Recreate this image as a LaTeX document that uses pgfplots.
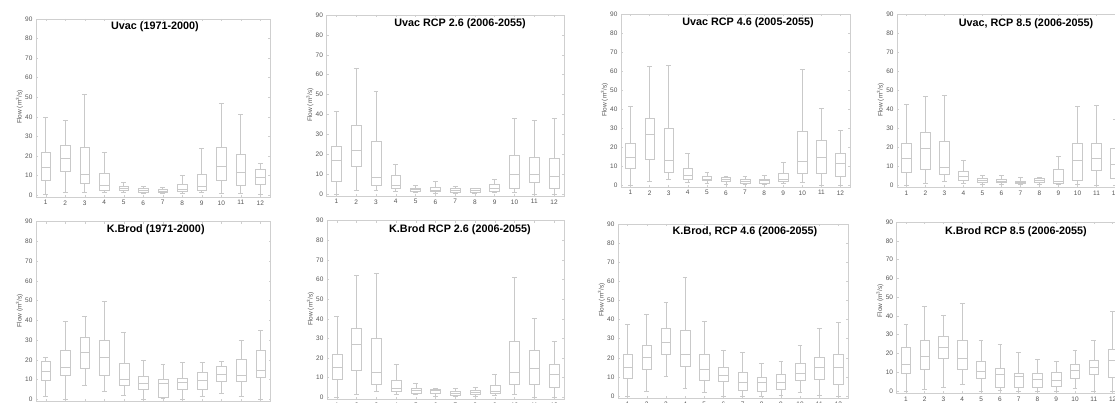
\documentclass[border=0pt]{standalone}
\usepackage{pgfplots}
\pgfplotsset{compat=1.18}
\usepackage{pgfplotstable}
\usepgfplotslibrary{statistics}
\usepackage{fontspec}
\setmainfont{Liberation Sans}
\definecolor{boxgray}{HTML}{C9C9C9}
\definecolor{axgray}{HTML}{CFCFCF}
\definecolor{lblgray}{HTML}{555555}

% Uvac (1971-2000)
\pgfplotstableread{
m lw q1 med q3 uw
1 0.2 7.7 14.2 21.7 39.5
2 1.4 12.1 18.8 25.3 38
3 1.4 6 10.8 24.6 51.5
4 1.4 2.2 5 11.1 21.8
5 1.5 2.4 3.4 4.3 6.3
6 0.9 1.5 2.5 3.3 4.5
7 0.7 1.2 2 2.7 3.8
8 0.8 1.7 3 5.5 9.9
9 1.3 2.2 4.6 10.6 24
10 0.9 7.3 14.8 24.2 47
11 1 4.8 11.8 21 41.3
12 0.2 5.3 9.2 13 16.2
}\tA
% Uvac RCP 2.6
\pgfplotstableread{
m lw q1 med q3 uw
1 0 6.2 17 23.8 41.7
2 1.7 13.7 21.9 34.7 63
3 1.7 4.4 8.2 26.5 51.4
4 1.2 2.8 4.5 9.4 14.7
5 0.7 1.3 2.2 2.8 4.2
6 0.5 1.2 2 3.3 6.2
7 0.3 1 1.7 2.8 3.9
8 0.3 1 1.8 2.8 3.0
9 0.8 1.5 2.8 5 7.4
10 0.8 2.8 10 19.3 38
11 0 5.7 10 18.4 37.2
12 0 2.8 9 18 38
}\tB
% Uvac RCP 4.6
\pgfplotstableread{
m lw q1 med q3 uw
1 0 9.1 14.9 22 41.3
2 1.8 13.7 26.9 35.1 62.4
3 3.2 6.5 13 30 63.3
4 1.4 3.2 4.9 8.8 16.7
5 1.2 2.3 3.3 4.7 7
6 0.5 2.1 3.2 4.2 4.4
7 0.4 1 1.8 2.8 4.4
8 0.5 1.2 2.3 3.2 4.9
9 0.9 1.8 3.2 6.2 11.8
10 1.6 6.3 12.5 28.5 61
11 0 6.3 14.8 23.7 40.4
12 0 4.8 11.6 16.6 28.8
}\tC
% Uvac RCP 8.5
\pgfplotstableread{
m lw q1 med q3 uw
1 0 6.8 14 22.3 42.6
2 1 8.6 19.5 27.9 47
3 1.9 5.8 9.5 23.3 47.2
4 1 2.8 4.6 7.5 13.3
5 0.5 1.6 2.6 3.7 5.3
6 0.5 1.4 2.3 3.2 5.1
7 0.4 1 1.6 2.3 4
8 0.5 1.4 2.5 3.5 4.2
9 0.5 1.2 1.9 8.4 15.4
10 0.5 2.8 13.2 22.3 41.4
11 0 7.7 14 22.3 42
12 0 3.9 10.9 19.6 34.6
}\tD
% K.Brod (1971-2000)
\pgfplotstableread{
m lw q1 med q3 uw
1 1.4 9.6 14 19.2 21.1
2 0 12 16 24.7 39.7
3 7.3 15.7 23.6 31.4 41.9
4 3.9 12 21.3 29.9 49.5
5 1.9 7.3 10.1 18.1 34
6 0 4.9 8.1 11.5 19.6
7 0.3 0.8 8.1 10 17.9
8 0 4.9 8.4 10.6 18.8
9 1.5 5.1 9.8 13.5 18.6
10 2.9 9 12.8 16.9 19.4
11 1.4 9.1 12 20.4 29.7
12 0 11.3 14.9 24.7 35.1
}\tE
% K.Brod RCP 2.6
\pgfplotstableread{
m lw q1 med q3 uw
1 0 9.2 15.1 22.1 41.4
2 1.7 13.6 26.8 35.1 62
3 3.2 6.5 12.9 30.2 63.2
4 1.4 3.2 4.6 8.7 16.8
5 1.4 2 3.6 4.8 7.3
6 0.5 2 3.4 4.1 4.4
7 0.3 1 2 2.9 4.4
8 0.5 1.4 2.4 3.4 4.9
9 0.8 2 3.2 6.1 11.9
10 1.7 6.5 12.7 28.7 61
11 0 6.5 14.8 23.8 40.2
12 0 4.9 11.7 16.6 28.7
}\tF
% K.Brod, RCP 4.6
\pgfplotstableread{
m lw q1 med q3 uw
1 0 9.2 15 21.6 37.4
2 2.3 13.9 20.2 26.3 42.8
3 10.1 21.7 28.2 35.3 49.2
4 4.3 15.7 21.9 34.4 62.3
5 1.9 8.5 14.1 21.9 39.3
6 0 7.8 10.8 14.8 24
7 0 3 7.1 12.2 22.8
8 0 2.4 7.1 9.7 17.4
9 0.3 3.5 7.3 11.3 18.1
10 1.9 8.2 11.8 16.9 26.8
11 0.3 8.7 15.3 20.5 35.7
12 0 6.3 15 21.6 38.8
}\tG
% K.Brod RCP 8.5
\pgfplotstableread{
m lw q1 med q3 uw
1 0 9.7 14.3 23.4 35.4
2 1.2 11.5 18.6 27.3 45.3
3 1.8 17.2 23.2 29 40.5
4 3.4 11.7 17.3 27.3 46.9
5 0 6.7 10.3 16.1 27.3
6 0.2 1.8 8.7 12 25
7 0 1.8 8.1 9.7 20.7
8 0 1.8 6.5 9.6 17
9 0 2.3 6 9.9 16.1
10 1.4 6.9 11 14.3 21.6
11 0 9 12.9 16.6 27.1
12 0 7.1 16.5 22.5 42.7
}\tH

\pgfplotsset{
  panel/.style={
    scale only axis, anchor=south west,
    xmin=0.5, xmax=12.5, ymin=-1, ymax=90,
    xtick={1,...,12}, ytick={0,10,...,90},
    tick align=inside, major tick length=2pt,
    axis line style={axgray, line width=0.5pt},
    tick style={axgray, line width=0.5pt},
    tick label style={font=\fontsize{6.5}{7}\selectfont, text=lblgray},
    /pgf/number format/assume math mode=true,
    boxplot/draw direction=y,
    boxplot/box extend=0.5,
    boxplot/whisker extend=0.25,
  },
  bx/.style={draw=boxgray, line width=0.6pt, solid, mark=none},
}

% #1 table, #2 left, #3 bottom (tikz y), #4 width, #5 height, #6 title, #7 title x, #8 title y, #9 ylabel y
\newcommand{\panel}[9]{%
  \begin{axis}[panel, at={(#2pt,#3pt)}, width=#4pt, height=#5pt]
    \pgfplotsinvokeforeach{0,...,11}{
      \pgfplotstablegetelem{##1}{lw}\of#1\let\vlw\pgfplotsretval
      \pgfplotstablegetelem{##1}{q1}\of#1\let\vqa\pgfplotsretval
      \pgfplotstablegetelem{##1}{med}\of#1\let\vmed\pgfplotsretval
      \pgfplotstablegetelem{##1}{q3}\of#1\let\vqc\pgfplotsretval
      \pgfplotstablegetelem{##1}{uw}\of#1\let\vuw\pgfplotsretval
      \edef\doplot{\noexpand\addplot[bx, boxplot prepared={draw position=\the\numexpr##1+1\relax,
        lower whisker=\vlw, lower quartile=\vqa, median=\vmed,
        upper quartile=\vqc, upper whisker=\vuw}] coordinates {};}
      \doplot
    }
  \end{axis}
  \node[font=\bfseries\fontsize{10.8}{12}\selectfont, inner sep=0pt] at (#7pt,#8pt) {#6};
  \node[rotate=90, font=\fontsize{6.5}{7}\selectfont, text=lblgray, inner sep=0pt]
    at ({#2pt-16.5pt},#9pt) {Flow (m\textsuperscript{3}/s)};
}

\begin{document}
\begin{tikzpicture}
\useasboundingbox (0pt,0pt) rectangle (1115pt,403pt);
\panel{\tA}{36}{206}{234}{178}{Uvac (1971-2000)}{155}{376.3}{296}
\panel{\tB}{326.5}{207}{237.5}{181}{Uvac RCP 2.6 (2006-2055)}{460}{379}{298}
\panel{\tC}{621}{216}{229}{172.7}{Uvac RCP 4.6 (2005-2055)}{748}{380.7}{303}
\panel{\tD}{897}{215.7}{228}{173}{Uvac, RCP 8.5 (2006-2055)}{1026}{379.7}{303}
\panel{\tE}{36}{1.7}{234.5}{179.6}{K.Brod (1971-2000)}{155.7}{173}{92.3}
\panel{\tF}{327}{3.7}{237}{178.6}{K.Brod RCP 2.6 (2006-2055)}{460}{173}{94}
\panel{\tG}{618}{5}{230}{174}{K.Brod, RCP 4.6 (2006-2055)}{745}{171}{103}
\panel{\tH}{896.5}{10}{225.5}{171}{K.Brod RCP 8.5 (2006-2055)}{1016}{171}{102.3}
\end{tikzpicture}
\end{document}
